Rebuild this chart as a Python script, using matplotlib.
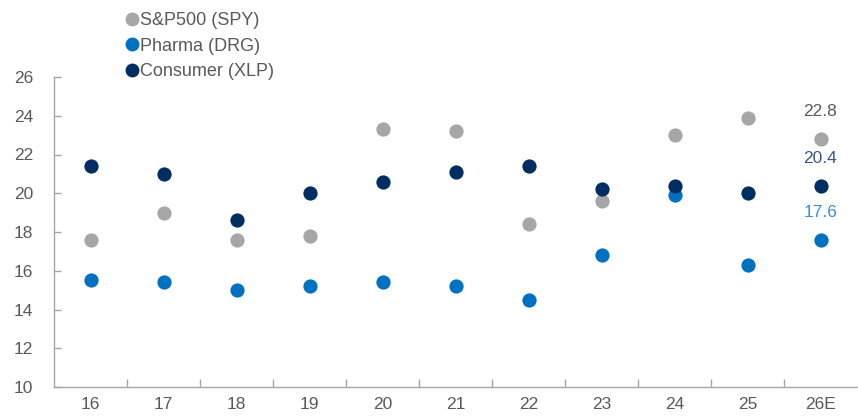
import matplotlib
matplotlib.use("Agg")
import matplotlib.pyplot as plt
import numpy as np
from matplotlib.lines import Line2D

plt.rcParams['font.family'] = ['Liberation Sans', 'DejaVu Sans']

categories = ["16", "17", "18", "19", "20", "21", "22", "23", "24", "25", "26E"]
spy = [17.6, 19.0, 17.6, 17.8, 23.3, 23.2, 18.4, 19.6, 23.0, 23.9, 22.8]
drg = [15.5, 15.4, 15.0, 15.2, 15.4, 15.2, 14.5, 16.8, 19.9, 16.3, 17.6]
xlp = [21.4, 21.0, 18.6, 20.0, 20.6, 21.1, 21.4, 20.2, 20.4, 20.0, 20.4]
series_names = ["S&P500 (SPY)", "Pharma (DRG)", "Consumer (XLP)"]

c_spy = "#A6A6A6"
c_drg = "#0070C0"
c_xlp = "#002D62"
label_colors = ["#595959", "#3A5585", "#3D8FD3"]
text_c = "#595959"
axis_c = "#A6A6A6"

fig = plt.figure(figsize=(8.58, 4.16), dpi=100)
ax = fig.add_axes([54/858, 29/416, 803/858, 310/416])

x = np.arange(len(categories))
for vals, col in [(spy, c_spy), (drg, c_drg), (xlp, c_xlp)]:
    ax.scatter(x, vals, s=105, color=col, zorder=3, linewidths=0)

# labels for last point
for vals, col in zip([spy, xlp, drg], [label_colors[0], label_colors[1], label_colors[2]]):
    ax.annotate(f"{vals[-1]:.1f}", (x[-1], vals[-1]), xytext=(0, 19.5),
                textcoords="offset points", ha="center", va="center",
                fontsize=12.5, color=col)

ax.set_xlim(-0.5, len(categories) - 0.5)
ax.set_ylim(10, 26)
ax.set_yticks(np.arange(10, 27, 2))
ax.set_xticks(x)
ax.set_xticklabels(categories)
ax.set_xticks(np.arange(0.5, len(categories) - 0.5, 1), minor=True)

for s in ["top", "right"]:
    ax.spines[s].set_visible(False)
for s in ["left", "bottom"]:
    ax.spines[s].set_color(axis_c)
    ax.spines[s].set_linewidth(1.0)

ax.tick_params(axis="x", which="major", length=0, pad=7, labelsize=12.5, labelcolor=text_c)
ax.tick_params(axis="x", which="minor", direction="in", length=6, color=axis_c, width=1)
ax.tick_params(axis="y", which="major", direction="in", length=5, color=axis_c, width=1,
               pad=15, labelsize=12.5, labelcolor=text_c)

handles = [Line2D([], [], marker="o", linestyle="none", markersize=10, color=c, markeredgewidth=0)
           for c in [c_spy, c_drg, c_xlp]]
leg = fig.legend(handles, series_names, loc="upper left", bbox_to_anchor=(126/858, 1 - 12/416),
                 frameon=False, fontsize=13, handlelength=0.7, handletextpad=0.1,
                 labelspacing=0.48, borderpad=0, borderaxespad=0)
for t in leg.get_texts():
    t.set_color(text_c)

fig.savefig("out.png", dpi=100)
